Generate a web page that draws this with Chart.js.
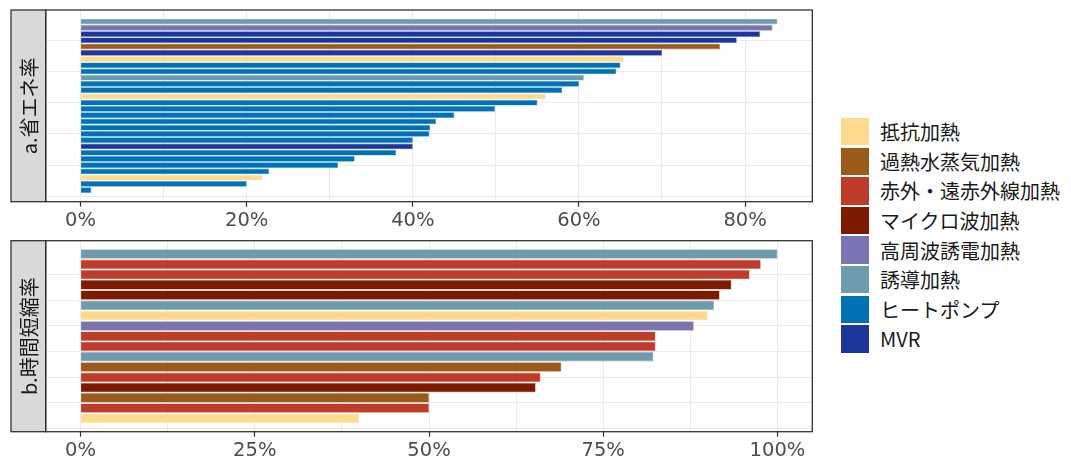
<!DOCTYPE html>
<html>
<head>
<meta charset="utf-8">
<script src="https://cdn.jsdelivr.net/npm/chart.js@4.4.0/dist/chart.umd.min.js"></script>
<style>
body{margin:0;background:#fff;width:1071px;height:462px;overflow:hidden;position:relative;font-family:"Noto Sans CJK JP",sans-serif}
canvas{position:absolute;left:0}
#chart_a{top:0}
#chart_b{top:231px}
#legend{position:absolute;left:841px;top:117px}
.item{display:flex;align-items:center;height:29.6px}
.key{width:28px;height:27.4px;margin-right:11px;flex:none}
.lab{font-size:20px;color:#1a1a1a;white-space:nowrap}
</style>
</head>
<body>
<canvas id="chart_a" width="830" height="231"></canvas>
<canvas id="chart_b" width="830" height="231"></canvas>
<div id="legend"></div>
<script>
// 加熱方式と色
const heatTypes = ['抵抗加熱','過熱水蒸気加熱','赤外・遠赤外線加熱','マイクロ波加熱','高周波誘電加熱','誘導加熱','ヒートポンプ','MVR'];
const typeColors = ['#FED98E','#9C5A1A','#BF3B2A','#7E1A00','#7A75B0','#6E9AAE','#0072B5','#1C369B'];

// a.省エネ率 (上から順)
const saveValues = [83.9,83.3,81.8,79.0,77.0,70.0,65.3,65.0,64.5,60.6,60.0,58.0,56.0,55.0,49.9,45.0,42.8,42.1,42.0,40.0,40.0,38.0,33.0,31.0,22.7,21.9,20.0,1.3];
const saveTypes = ['誘導加熱','高周波誘電加熱','MVR','MVR','過熱水蒸気加熱','MVR','抵抗加熱','ヒートポンプ','ヒートポンプ','誘導加熱',
    'ヒートポンプ','ヒートポンプ','抵抗加熱','ヒートポンプ','ヒートポンプ','ヒートポンプ','ヒートポンプ','ヒートポンプ','ヒートポンプ','ヒートポンプ',
    'MVR','ヒートポンプ','ヒートポンプ','ヒートポンプ','ヒートポンプ','抵抗加熱','ヒートポンプ','ヒートポンプ'];
const saveTicks = [0,20,40,60,80];

// b.時間短縮率 (上から順)
const timeValues = [100,97.6,96.0,93.4,91.7,90.9,90.0,88.0,82.5,82.5,82.2,69.0,66.0,65.3,50.0,50.0,40.0];
const timeTypes = ['誘導加熱','赤外・遠赤外線加熱','赤外・遠赤外線加熱','マイクロ波加熱','マイクロ波加熱','誘導加熱','抵抗加熱','高周波誘電加熱',
    '赤外・遠赤外線加熱','赤外・遠赤外線加熱','誘導加熱','過熱水蒸気加熱','赤外・遠赤外線加熱','マイクロ波加熱','過熱水蒸気加熱','赤外・遠赤外線加熱','抵抗加熱'];
const timeTicks = [0,25,50,75,100];

Chart.defaults.font.family = '"Noto Sans CJK JP", sans-serif';

const panelFrame = {
    id: 'panelFrame',
    afterDraw(chart, args, opts) {
        const a = chart.chartArea, ctx = chart.ctx;
        const sx = 11;
        ctx.save();
        ctx.fillStyle = '#D9D9D9';
        ctx.fillRect(sx, a.top, a.left - sx, a.bottom - a.top);
        ctx.strokeStyle = '#333333';
        ctx.lineWidth = 1.3;
        ctx.strokeRect(sx, a.top, a.left - sx, a.bottom - a.top);
        ctx.strokeRect(a.left, a.top, a.right - a.left, a.bottom - a.top);
        ctx.translate((sx + a.left) / 2, (a.top + a.bottom) / 2);
        ctx.rotate(-Math.PI / 2);
        ctx.fillStyle = '#1A1A1A';
        ctx.font = '20px "Noto Sans CJK JP"';
        ctx.textAlign = 'center';
        ctx.textBaseline = 'middle';
        ctx.fillText(opts.title, 0, 1);
        ctx.restore();
    }
};

function makePanel(id, title, values, types, labelTicks, yStep, padTop, axisH) {
    const n = values.length;
    const pts = values.map((v, i) => ({x: v, y: n - i}));
    const cols = types.map(t => typeColors[heatTypes.indexOf(t)]);
    const xMax = Math.max(...values);
    const xExp = xMax * 0.05;
    const yExp = (n - 0.1) * 0.05;
    const step = labelTicks[1] - labelTicks[0];
    const xTicks = [];
    for (let v = 0; v <= labelTicks[labelTicks.length - 1] + 0.001; v += step / 2) xTicks.push(v);
    const yTicks = [];
    for (let v = 0; v < n; v += yStep) yTicks.push(v);

    return new Chart(document.getElementById(id), {
        type: 'bar',
        data: {
            datasets: [{
                data: pts,
                backgroundColor: cols,
                borderColor: cols.map(c => c + 'B0'),
                borderWidth: 0.6,
                barPercentage: 0.92,
                categoryPercentage: 1,
            }]
        },
        options: {
            indexAxis: 'y',
            responsive: false,
            animation: false,
            devicePixelRatio: 1,
            layout: {padding: {left: 45.7, right: 17.7, top: padTop, bottom: 0}},
            plugins: {
                legend: {display: false},
                tooltip: {enabled: false},
                panelFrame: {title: title}
            },
            scales: {
                x: {
                    type: 'linear',
                    min: -xExp,
                    max: xMax + xExp,
                    afterBuildTicks: s => { s.ticks = xTicks.map(v => ({value: v})); },
                    afterFit: s => { s.height = axisH; },
                    border: {display: false},
                    grid: {
                        color: '#EBEBEB',
                        lineWidth: 1,
                        tickLength: 5,
                        tickColor: c => labelTicks.includes(c.tick.value) ? '#333333' : 'rgba(0,0,0,0)',
                        tickWidth: 1.2
                    },
                    ticks: {
                        autoSkip: false,
                        maxRotation: 0,
                        padding: 3,
                        color: '#4D4D4D',
                        font: {size: 19.5, family: '"DejaVu Sans", sans-serif'},
                        callback: v => labelTicks.includes(v) ? v + '%' : ''
                    }
                },
                y: {
                    type: 'linear',
                    offset: false,
                    min: 0.55 - yExp,
                    max: n + 0.45 + yExp,
                    afterBuildTicks: s => { s.ticks = yTicks.map(v => ({value: v})); },
                    afterFit: s => { s.width = 0; },
                    border: {display: false},
                    grid: {color: '#EBEBEB', lineWidth: 1, drawTicks: false, offset: false},
                    ticks: {display: false}
                }
            }
        },
        plugins: [panelFrame]
    });
}

function drawAll() {
    makePanel('chart_a', 'a.省エネ率', saveValues, saveTypes, saveTicks, 5, 10, 29.3);
    makePanel('chart_b', 'b.時間短縮率', timeValues, timeTypes, timeTicks, 2.5, 9.7, 30.3);

    const lg = document.getElementById('legend');
    heatTypes.forEach((t, i) => {
        const it = document.createElement('div');
        it.className = 'item';
        it.innerHTML = '<div class="key" style="background:' + typeColors[i] + '"></div><span class="lab"></span>';
        it.querySelector('.lab').textContent = t;
        lg.appendChild(it);
    });
}

document.fonts.load('20px "Noto Sans CJK JP"', '省エネ率').then(drawAll, drawAll);
</script>
</body>
</html>
